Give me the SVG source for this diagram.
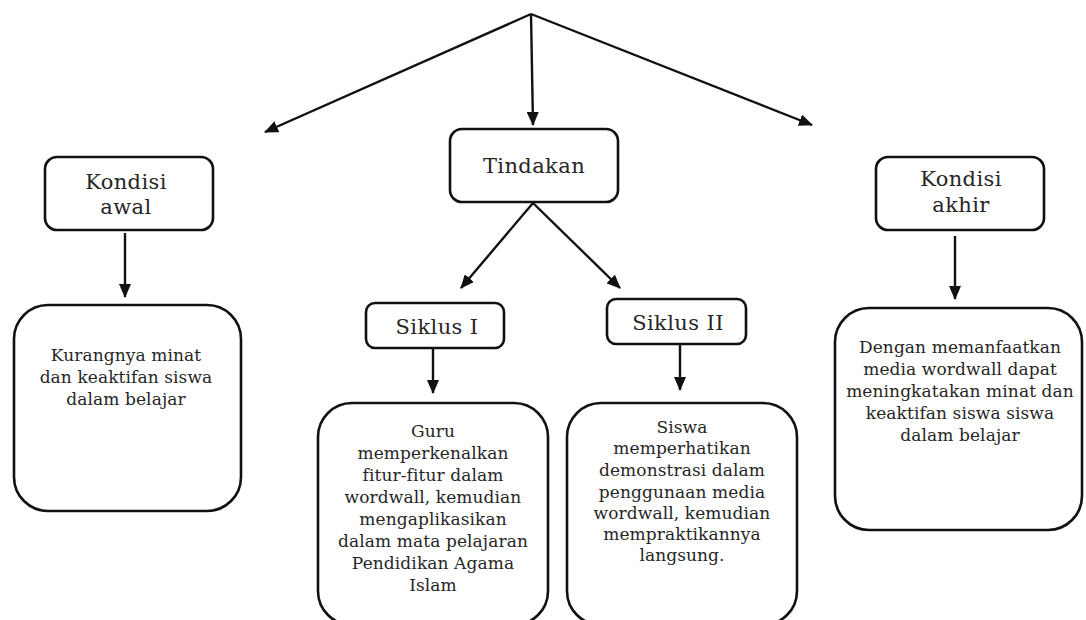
<svg xmlns="http://www.w3.org/2000/svg" width="1086" height="620" viewBox="0 0 1086 620">
<style>
.box{fill:#fff;stroke:#111;stroke-width:2.6}
.t{fill:#262626;text-anchor:middle}
.h{font-size:21px;letter-spacing:0.4px}
.b{font-size:17px;letter-spacing:0.1px}
.c{stroke:#111;stroke-width:2.4;fill:none;marker-end:url(#ah)}
</style>
<defs>
<marker id="ah" markerUnits="userSpaceOnUse" markerWidth="14" markerHeight="12" refX="13" refY="6" orient="auto">
<path d="M0,0 L14,6 L0,12 Z" fill="#111"/>
</marker>
</defs>
<rect width="1086" height="620" fill="#fff"/>
<g id="connectors">
<line class="c" x1="531" y1="14" x2="265" y2="132"/>
<line class="c" x1="531" y1="14" x2="533" y2="125"/>
<line class="c" x1="531" y1="14" x2="812" y2="125"/>
<line class="c" x1="533" y1="203" x2="461" y2="288"/>
<line class="c" x1="533" y1="203" x2="620" y2="288"/>
<line class="c" x1="125" y1="233" x2="125" y2="297"/>
<line class="c" x1="433" y1="349" x2="433" y2="393"/>
<line class="c" x1="680" y1="345" x2="680" y2="390"/>
<line class="c" x1="955" y1="236" x2="955" y2="299"/>
</g>
<g font-family="DejaVu Serif, serif">
<g id="kondisi-awal">
<rect class="box" x="45" y="157" width="168" height="73" rx="12"/>
<text class="t h" x="126" y="189">Kondisi</text>
<text class="t h" x="126" y="214">awal</text>
</g>
<g id="tindakan">
<rect class="box" x="450" y="129" width="168" height="73" rx="12"/>
<text class="t h" x="534" y="173">Tindakan</text>
</g>
<g id="kondisi-akhir">
<rect class="box" x="876" y="157" width="168" height="73" rx="12"/>
<text class="t h" x="961" y="186">Kondisi</text>
<text class="t h" x="961" y="212">akhir</text>
</g>
<g id="siklus-1">
<rect class="box" x="366" y="303" width="138" height="45" rx="9"/>
<text class="t h" x="437" y="334">Siklus I</text>
</g>
<g id="siklus-2">
<rect class="box" x="607" y="299" width="139" height="45" rx="9"/>
<text class="t h" x="678" y="330">Siklus II</text>
</g>
<g id="kondisi-awal-isi">
<rect class="box" x="14" y="305" width="227" height="206" rx="34"/>
<text class="t b" x="126" y="361">Kurangnya minat</text>
<text class="t b" x="126" y="383">dan keaktifan siswa</text>
<text class="t b" x="126" y="405">dalam belajar</text>
</g>
<g id="siklus-1-isi">
<rect class="box" x="318" y="403" width="230" height="222" rx="34"/>
<text class="t b" x="433" y="437">Guru</text>
<text class="t b" x="433" y="459">memperkenalkan</text>
<text class="t b" x="433" y="481">fitur-fitur dalam</text>
<text class="t b" x="433" y="503">wordwall, kemudian</text>
<text class="t b" x="433" y="525">mengaplikasikan</text>
<text class="t b" x="433" y="547">dalam mata pelajaran</text>
<text class="t b" x="433" y="569">Pendidikan Agama</text>
<text class="t b" x="433" y="591">Islam</text>
</g>
<g id="siklus-2-isi">
<rect class="box" x="567" y="403" width="230" height="222" rx="34"/>
<text class="t b" x="682" y="433">Siswa</text>
<text class="t b" x="682" y="454">memperhatikan</text>
<text class="t b" x="682" y="476">demonstrasi dalam</text>
<text class="t b" x="682" y="498">penggunaan media</text>
<text class="t b" x="682" y="519">wordwall, kemudian</text>
<text class="t b" x="682" y="540">mempraktikannya</text>
<text class="t b" x="682" y="561">langsung.</text>
</g>
<g id="kondisi-akhir-isi">
<rect class="box" x="835" y="308" width="247" height="222" rx="34"/>
<text class="t b" x="960" y="353">Dengan memanfaatkan</text>
<text class="t b" x="960" y="375">media wordwall dapat</text>
<text class="t b" x="960" y="397">meningkatakan minat dan</text>
<text class="t b" x="960" y="419">keaktifan siswa siswa</text>
<text class="t b" x="960" y="441">dalam belajar</text>
</g>
</g>
</svg>
